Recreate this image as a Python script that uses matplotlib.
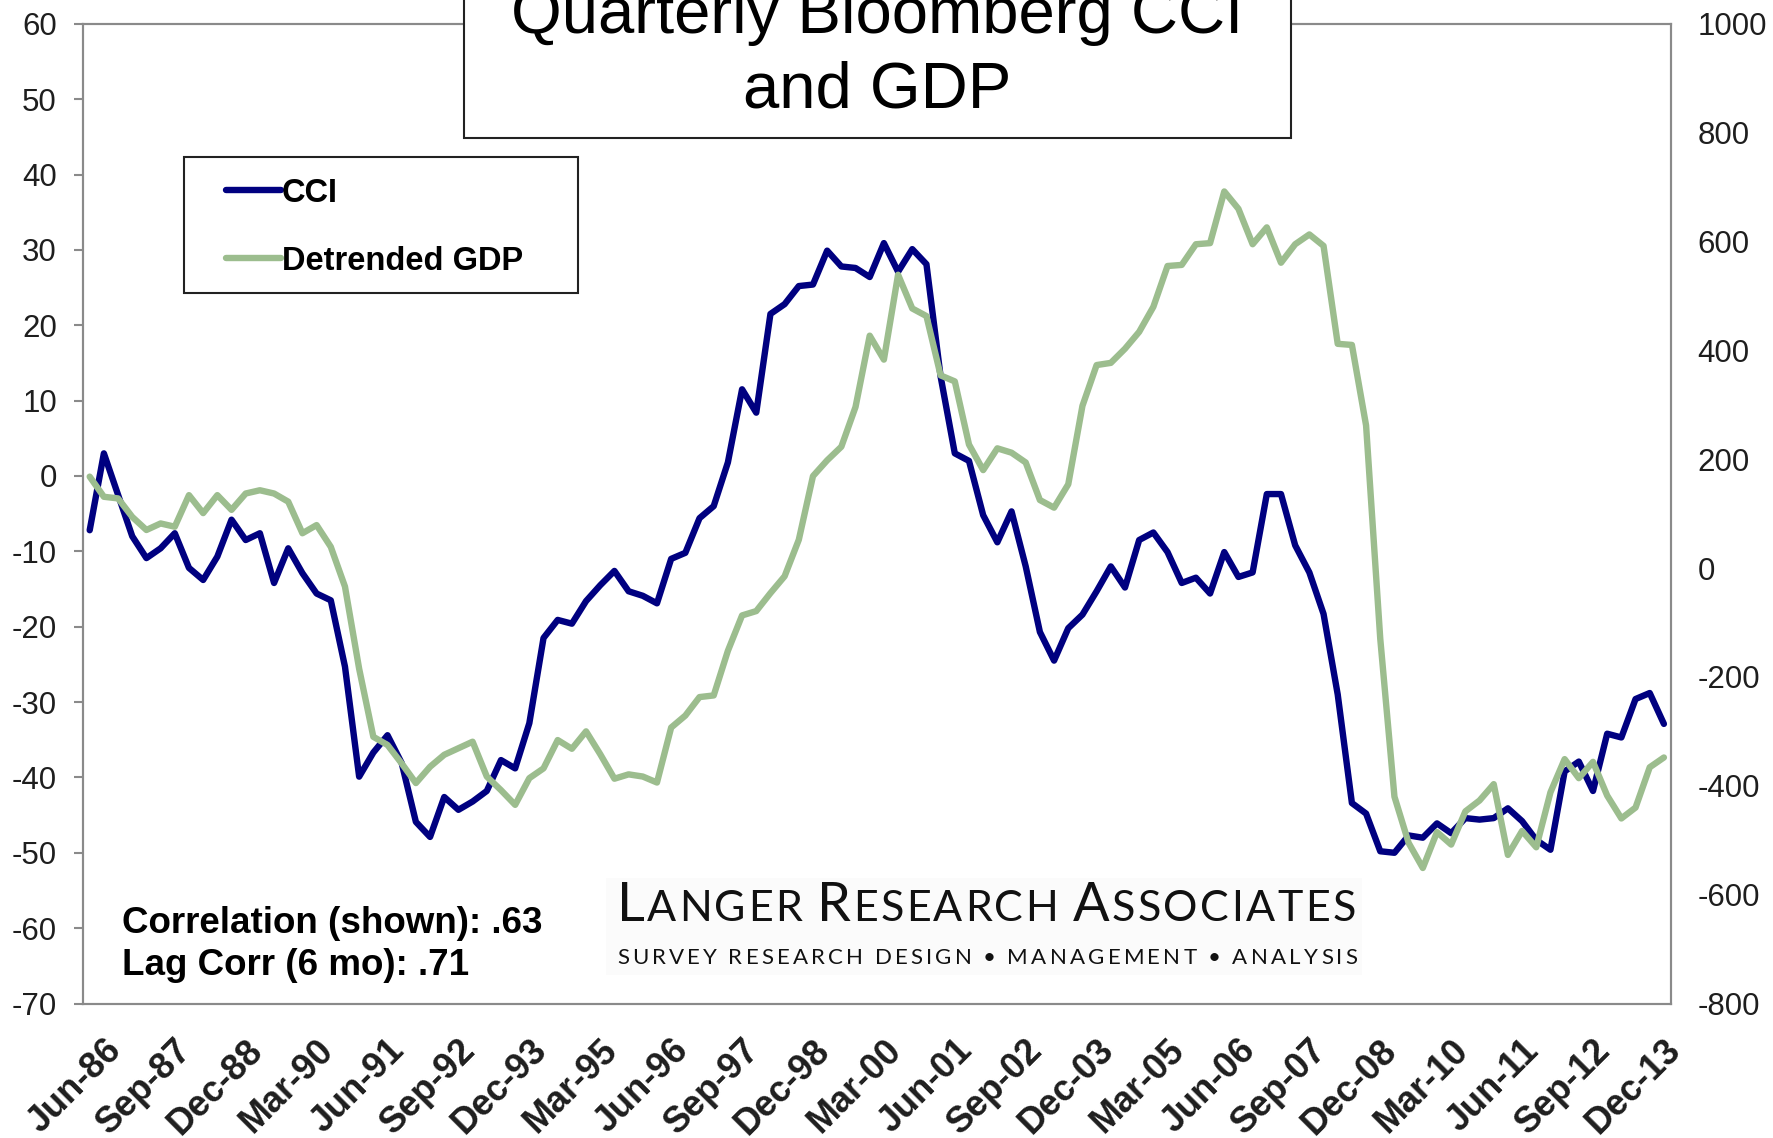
import numpy as np
import matplotlib
matplotlib.use("Agg")
import matplotlib.pyplot as plt
import matplotlib.transforms as mtransforms
from matplotlib.patches import Rectangle
from matplotlib.lines import Line2D

W, H = 1774, 1138

# quarterly values, Jun-86 .. Mar-14
cci = [-7.2, 3.0, -2.5, -8.0, -10.9, -9.6, -7.6, -12.2, -13.8, -10.7,
       -5.8, -8.5, -7.6, -14.2, -9.6, -12.9, -15.6, -16.5, -25.3, -39.9,
       -36.7, -34.4, -38.1, -45.9, -47.9, -42.6, -44.3, -43.2, -41.8, -37.7,
       -38.8, -32.8, -21.5, -19.1, -19.6, -16.6, -14.5, -12.6, -15.3, -15.9,
       -16.9, -11.0, -10.2, -5.6, -4.0, 1.8, 11.5, 8.4, 21.5, 22.8,
       25.2, 25.4, 29.9, 27.8, 27.6, 26.4, 30.9, 27.1, 30.1, 28.1,
       13.2, 3.0, 2.0, -5.2, -8.8, -4.7, -12.0, -20.7, -24.5, -20.2,
       -18.4, -15.3, -12.0, -14.8, -8.5, -7.5, -10.1, -14.2, -13.5, -15.6,
       -10.1, -13.4, -12.8, -2.4, -2.4, -9.2, -12.8, -18.3, -29.0, -43.4,
       -44.8, -49.8, -50.0, -47.7, -48.0, -46.1, -47.4, -45.4, -45.6, -45.4,
       -44.1, -45.8, -48.3, -49.6, -39.2, -37.9, -41.8, -34.2, -34.7, -29.6,
       -28.8, -32.9]

gdp = [168, 131, 128, 94, 70, 82, 76, 134, 101, 134,
       107, 137, 143, 137, 122, 64, 79, 39, -34, -185,
       -310, -325, -359, -395, -365, -343, -331, -319, -383, -408,
       -435, -386, -368, -316, -332, -300, -342, -387, -379, -383,
       -394, -293, -271, -237, -234, -152, -87, -79, -46, -15,
       52, 169, 198, 223, 296, 427, 383, 539, 477, 463,
       354, 343, 227, 180, 220, 212, 194, 125, 111, 154,
       298, 373, 377, 403, 434, 480, 555, 557, 595, 597,
       692, 660, 595, 626, 561, 595, 613, 592, 412, 410,
       262, -130, -420, -505, -551, -485, -508, -447, -427, -397,
       -527, -483, -513, -412, -351, -386, -356, -418, -460, -440,
       -366, -348]

tick_labels = ["Jun-86", "Sep-87", "Dec-88", "Mar-90", "Jun-91", "Sep-92",
               "Dec-93", "Mar-95", "Jun-96", "Sep-97", "Dec-98", "Mar-00",
               "Jun-01", "Sep-02", "Dec-03", "Mar-05", "Jun-06", "Sep-07",
               "Dec-08", "Mar-10", "Jun-11", "Sep-12", "Dec-13"]

BLUE = "#000080"
GREEN = "#9cbd8e"
GRID = "#8a8a8a"
TXT = "#1e1e1e"
FONT = "Liberation Sans"
LOGO_FONT = "Lato"
LW = 4.6

plt.rcParams["font.family"] = [FONT, "DejaVu Sans"]
plt.rcParams["axes.unicode_minus"] = False


def fx(x):
    return x / W


def fy(y):
    return 1 - y / H


fig = plt.figure(figsize=(W / 100, H / 100), dpi=100)
ax = fig.add_axes([fx(82.6), fy(1003.5), fx(1671) - fx(82.6), fy(23.8) - fy(1003.5)])
ax2 = ax.twinx()

x = np.arange(len(cci))
ax.plot(x, cci, color=BLUE, lw=LW, solid_joinstyle="round", solid_capstyle="round")
ax2.plot(x, gdp, color=GREEN, lw=LW, solid_joinstyle="round", solid_capstyle="round")

ax.set_xlim(-0.5, len(cci) - 0.5)
ax.set_ylim(-70, 60)
ax.set_yticks(np.arange(-70, 61, 10))
ax2.set_ylim(-800, 1000)
ax2.set_yticks(np.arange(-800, 1001, 200))

for a in (ax, ax2):
    for s in a.spines.values():
        s.set_color(GRID)
        s.set_linewidth(1.5)

ax.tick_params(axis="y", direction="out", length=6.5, width=1.5, color=GRID,
               pad=12, labelsize=22.5, labelcolor=TXT)
ax2.tick_params(axis="y", length=0, pad=19, labelsize=22.5, labelcolor=TXT)

ax.set_xticks(x[::5])
ax.set_xticklabels(tick_labels, rotation=45, ha="right", va="center",
                   rotation_mode="anchor", fontsize=26, fontweight="bold", color=TXT)
ax.tick_params(axis="x", length=0, pad=30)
offset = mtransforms.ScaledTranslation(0.26, 0, fig.dpi_scale_trans)
for lab in ax.get_xticklabels():
    lab.set_transform(lab.get_transform() + offset)

# title box, cut off at the top like the original
fig.add_artist(Rectangle((fx(464), fy(138)), fx(1291) - fx(464), fy(-20) - fy(138),
                         transform=fig.transFigure, facecolor="white",
                         edgecolor="#222222", lw=1.5, zorder=5))
fig.text(fx(877), fy(33), "Quarterly Bloomberg CCI", fontsize=47, ha="center",
         va="baseline", color="black", zorder=6)
fig.text(fx(877), fy(107.5), "and GDP", fontsize=47, ha="center",
         va="baseline", color="black", zorder=6)

# legend box
fig.add_artist(Rectangle((fx(184.4), fy(293)), fx(578.1) - fx(184.4), fy(157.3) - fy(293),
                         transform=fig.transFigure, facecolor="white",
                         edgecolor="#222222", lw=1.5, zorder=5))
for yy, col, name in [(190, BLUE, "CCI"), (258, GREEN, "Detrended GDP")]:
    fig.add_artist(Line2D([fx(226), fx(281)], [fy(yy), fy(yy)], transform=fig.transFigure,
                          color=col, lw=LW, solid_capstyle="round", zorder=6))
    fig.text(fx(282), fy(yy), name, fontsize=23.5, fontweight="bold", ha="left",
             va="center_baseline", color="black", zorder=6)

# correlation notes
fig.text(fx(122), fy(932.6), "Correlation (shown): .63", fontsize=26.5, fontweight="bold",
         ha="left", va="baseline", color="black")
fig.text(fx(122), fy(974.6), "Lag Corr (6 mo): .71", fontsize=26.5, fontweight="bold",
         ha="left", va="baseline", color="black")

# logo
fig.add_artist(Rectangle((fx(606), fy(975)), fx(1362) - fx(606), fy(878) - fy(975),
                         transform=fig.transFigure, facecolor="#fbfbfb",
                         edgecolor="none", zorder=1))

renderer = fig.canvas.get_renderer()


def tracked(pieces, x0, x1, base_y):
    chars = [(ch, fs) for s, fs in pieces for ch in s]
    widths = []
    for ch, fs in chars:
        if ch == " ":
            widths.append(0.22 * fs * 100 / 72)
        else:
            t = fig.text(0, 0, ch, fontsize=fs, family=LOGO_FONT)
            widths.append(t.get_window_extent(renderer).width)
            t.remove()
    track = (x1 - x0 - sum(widths)) / (len(chars) - 1)
    xx = x0
    for (ch, fs), w in zip(chars, widths):
        if ch != " ":
            fig.text(fx(xx), fy(base_y), ch, fontsize=fs, family=LOGO_FONT,
                     ha="left", va="baseline", color="#111111", zorder=3)
        xx += w + track


big, small = 39, 31
tracked([("L", big), ("ANGER", small), (" ", small), ("R", big), ("ESEARCH", small),
         (" ", small), ("A", big), ("SSOCIATES", small)], 617, 1355.5, 921)
tracked([("SURVEY RESEARCH DESIGN \u2022 MANAGEMENT \u2022 ANALYSIS", 16)], 617, 1357.5, 964)

fig.savefig("out.png", dpi=100)
